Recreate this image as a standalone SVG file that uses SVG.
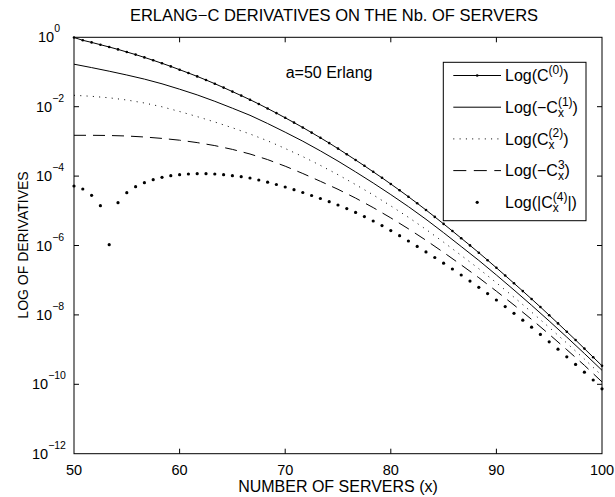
<svg xmlns="http://www.w3.org/2000/svg" width="615" height="497" viewBox="0 0 615 497">
  <style>
    text { font-family: "Liberation Sans", Arial, Helvetica, sans-serif; font-size: 16px; fill: #000; }
    .tick { font-size: 14.5px; }
    .ttl { font-size: 16.5px; }
    .xl { font-size: 16px; }
    .yl { font-size: 14px; }
    .axis { fill: none; stroke: #000; stroke-width: 1; }
    .curve { fill: none; stroke: #000; stroke-width: 1; stroke-linejoin: round; }
    .dotted { stroke-dasharray: 1 5.3; }
    .dashed { stroke-dasharray: 12 7; }
    .pts { fill: none; stroke: none; }
  </style>
  <defs>
    <marker id="dot0" markerUnits="userSpaceOnUse" markerWidth="4" markerHeight="4" refX="2" refY="2" viewBox="0 0 4 4">
      <circle cx="2" cy="2" r="1.3" fill="#000"/>
    </marker>
    <marker id="dot4" markerUnits="userSpaceOnUse" markerWidth="5" markerHeight="5" refX="2.5" refY="2.5" viewBox="0 0 5 5">
      <circle cx="2.5" cy="2.5" r="1.6" fill="#000"/>
    </marker>
  </defs>

  <!-- title -->
  <text id="title" class="ttl" x="334" y="21" text-anchor="middle">ERLANG−C DERIVATIVES ON THE Nb. OF SERVERS</text>

  <!-- plot frame with inward ticks -->
  <g id="axes">
    <rect class="axis" x="74" y="37.3" width="528" height="416.4"/>
    <path class="axis" d="M179.6,453.7v-5 M285.2,453.7v-5 M390.8,453.7v-5 M496.4,453.7v-5
                          M179.6,37.3v5 M285.2,37.3v5 M390.8,37.3v5 M496.4,37.3v5
                          M74,106.7h5 M74,176.1h5 M74,245.5h5 M74,314.9h5 M74,384.3h5
                          M602,106.7h-5 M602,176.1h-5 M602,245.5h-5 M602,314.9h-5 M602,384.3h-5"/>
  </g>

  <!-- x tick labels -->
  <g id="xticks" text-anchor="middle">
    <text class="tick" x="74" y="475">50</text>
    <text class="tick" x="179.6" y="475">60</text>
    <text class="tick" x="285.2" y="475">70</text>
    <text class="tick" x="390.8" y="475">80</text>
    <text class="tick" x="496.4" y="475">90</text>
    <text class="tick" x="602" y="475">100</text>
  </g>

  <!-- y tick labels (powers of ten) -->
  <g id="yticks">
    <text class="tick" x="38" y="42.3">10<tspan font-size="10.5" dy="-10">0</tspan></text>
    <text class="tick" x="36" y="111.7">10<tspan font-size="10.5" dy="-10">−2</tspan></text>
    <text class="tick" x="36" y="181.1">10<tspan font-size="10.5" dy="-10">−4</tspan></text>
    <text class="tick" x="36" y="250.5">10<tspan font-size="10.5" dy="-10">−6</tspan></text>
    <text class="tick" x="36" y="319.9">10<tspan font-size="10.5" dy="-10">−8</tspan></text>
    <text class="tick" x="32" y="389.3">10<tspan font-size="10.5" dy="-10">−10</tspan></text>
    <text class="tick" x="32" y="458.7">10<tspan font-size="10.5" dy="-10">−12</tspan></text>
  </g>

  <!-- axis titles -->
  <text id="xlabel" class="xl" x="338" y="492" text-anchor="middle">NUMBER OF SERVERS (x)</text>
  <text id="ylabel" class="yl" transform="translate(27.5,245) rotate(-90)" text-anchor="middle">LOG OF DERIVATIVES</text>

  <!-- data series -->
  <g id="series">
    <polyline id="c0" class="curve" marker-start="url(#dot0)" marker-mid="url(#dot0)" marker-end="url(#dot0)"
      points="74,37.5 82.8,40.3 91.6,42.4 100.4,44.7 109.2,47.0 118,49.4 126.8,52.0 135.6,54.6 144.4,57.4 153.2,60.3 162,63.3 170.8,66.4 179.6,69.7 188.4,73.0 197.2,76.4 206,80.0 214.8,83.7 223.6,87.6 232.4,91.6 241.2,95.6 250,99.7 258.8,104.0 267.6,108.5 276.4,113.1 285.2,117.8 294,122.6 302.8,127.5 311.6,132.6 320.4,137.8 329.2,143.1 338,148.6 346.8,154.3 355.6,160.0 364.4,165.8 373.2,171.8 382,177.8 390.8,184.0 399.6,190.3 408.4,196.7 417.2,203.3 426,210.0 434.8,216.9 443.6,223.9 452.4,231.0 461.2,238.2 470,245.4 478.8,252.7 487.6,260.2 496.4,267.8 505.2,275.5 514,283.3 522.8,291.1 531.6,299.0 540.4,307.0 549.2,315.2 558,323.4 566.8,331.7 575.6,340.0 584.4,348.6 593.2,357.2 602,365.8"/>
    <polyline id="c1" class="curve"
      points="74,64.2 91.6,67.6 109.2,71.2 126.8,75.0 144.4,79.1 162,83.8 179.6,89.2 197.2,94.9 214.8,101.3 232.4,108.2 250,115.3 267.6,123.5 285.2,132.2 302.8,141.2 320.4,150.9 338,161.1 355.6,171.9 373.2,183.0 390.8,194.6 408.4,206.6 426,219.3 443.6,232.7 461.2,246.5 478.8,260.4 496.4,275.0 514,290.0 531.6,305.3 549.2,321.0 566.8,337.1 584.4,353.5 602,370.3"/>
    <polyline id="c2" class="curve dotted"
      points="74,95.3 91.6,96.3 109.2,97.8 126.8,100.0 144.4,103.0 162,106.8 179.6,111.5 197.2,116.6 214.8,122.0 232.4,127.8 250,134.0 267.6,140.8 285.2,148.5 302.8,156.6 320.4,165.4 338,174.7 355.6,184.6 373.2,194.9 390.8,205.9 408.4,217.3 426,229.4 443.6,242.2 461.2,255.4 478.8,268.7 496.4,282.8 514,297.2 531.6,312.1 549.2,327.4 566.8,343.1 584.4,359.1 602,375.7"/>
    <polyline id="c3" class="curve dashed"
      points="74,135.3 91.6,135.3 109.2,135.5 126.8,136.0 144.4,137.0 162,138.4 179.6,140.2 197.2,142.6 214.8,145.6 232.4,149.4 250,154.0 267.6,159.6 285.2,166.2 302.8,173.5 320.4,181.3 338,189.3 355.6,198.1 373.2,207.6 390.8,217.9 408.4,228.8 426,240.3 443.6,252.4 461.2,264.9 478.8,277.7 496.4,291.2 514,305.0 531.6,319.4 549.2,334.3 566.8,349.7 584.4,365.3 602,381.9"/>
    <polyline id="c4" class="pts" marker-start="url(#dot4)" marker-mid="url(#dot4)" marker-end="url(#dot4)"
      points="74,186 82.8,189 91.6,195.3 100.4,205.7 109.2,244.7 118,202.7 126.8,192.7 135.6,186.7 144.4,182.7 153.2,179.7 162,177.3 170.8,175.7 179.6,174.7 188.4,174 197.2,173.7 206,173.7 214.8,174 223.6,174.7 232.4,175.7 241.2,176.7 250,178 258.8,180 267.6,182.2 276.4,184.5 285.2,187.0 294,189.7 302.8,192.5 311.6,195.5 320.4,198.5 329.2,201.7 338,205.0 346.8,208.6 355.6,212.4 364.4,216.6 373.2,221.0 382,225.6 390.8,230.6 399.6,235.7 408.4,241.0 417.2,246.4 426,251.9 434.8,257.5 443.6,263.2 452.4,269.0 461.2,275.0 470,281.1 478.8,287.3 487.6,293.6 496.4,300.0 505.2,306.6 514,313.3 522.8,320.2 531.6,327.2 540.4,334.4 549.2,341.8 558,349.2 566.8,356.8 575.6,364.4 584.4,372.2 593.2,380.0 602,388.8"/>
  </g>

  <!-- annotation -->
  <text id="note" x="285.7" y="78">a=50 Erlang</text>

  <!-- legend -->
  <g id="legend">
    <rect x="443.3" y="62.3" width="142.7" height="158.4" fill="#fff" stroke="#000" stroke-width="1"/>
    <g id="leg-c0">
      <line class="curve" x1="453.3" y1="75.5" x2="501" y2="75.5"/>
      <circle cx="477.2" cy="75.5" r="1.3" fill="#000"/>
      <text x="505" y="81.3">Log(C<tspan font-size="12" dy="-7">(0)</tspan><tspan dy="7">)</tspan></text>
    </g>
    <g id="leg-c1">
      <line class="curve" x1="453.3" y1="107.2" x2="501" y2="107.2"/>
      <text x="505" y="113">Log(−C<tspan font-size="12" dy="-7.5">(1)</tspan><tspan font-size="12" dx="-14.66" dy="11.5">x</tspan><tspan dx="8.66" dy="-4">)</tspan></text>
    </g>
    <g id="leg-c2">
      <line class="curve dotted" x1="453.3" y1="138.9" x2="501" y2="138.9"/>
      <text x="505" y="144.7">Log(C<tspan font-size="12" dy="-7.5">(2)</tspan><tspan font-size="12" dx="-14.66" dy="11.5">x</tspan><tspan dx="8.66" dy="-4">)</tspan></text>
    </g>
    <g id="leg-c3">
      <line class="curve" x1="453.3" y1="170.6" x2="501" y2="170.6" stroke-dasharray="13 7.5"/>
      <text x="505" y="176.4">Log(−C<tspan font-size="12" dy="-7.5">3</tspan><tspan font-size="12" dx="-6.67" dy="11.5">x</tspan><tspan dx="0.67" dy="-4">)</tspan></text>
    </g>
    <g id="leg-c4">
      <circle cx="477.2" cy="202.3" r="1.6" fill="#000"/>
      <text x="505" y="208.1">Log(|C<tspan font-size="12" dy="-7.5">(4)</tspan><tspan font-size="12" dx="-14.66" dy="11.5">x</tspan><tspan dx="8.66" dy="-4">|)</tspan></text>
    </g>
  </g>
</svg>
